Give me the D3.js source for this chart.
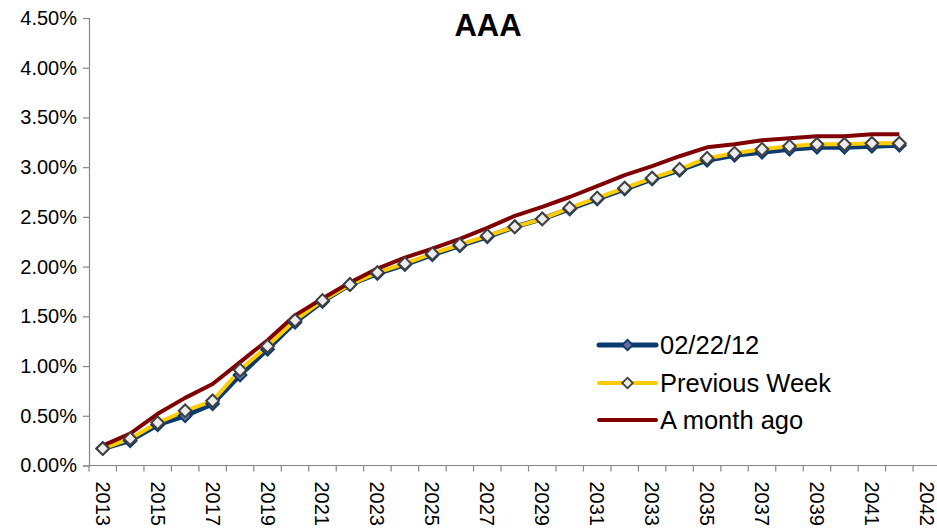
<!DOCTYPE html>
<html><head><meta charset="utf-8">
<script src="https://cdn.jsdelivr.net/npm/d3@7"></script>
<style>
html,body{margin:0;padding:0;background:#fff;}
svg{display:block;font-family:"Liberation Sans",Arial,sans-serif;}
</style></head>
<body><svg id="chart" width="937" height="531"></svg>
<script>
// ---- data ----
const categories = ["2013","2014","2015","2016","2017","2018","2019","2020","2021","2022",
  "2023","2024","2025","2026","2027","2028","2029","2030","2031","2032","2033","2034",
  "2035","2036","2037","2038","2039","2040","2041","2042","2042"];
const current = [0.17,0.25,0.41,0.50,0.62,0.91,1.17,1.44,1.65,1.82,1.93,2.02,2.12,2.21,2.30,
  2.40,2.48,2.58,2.68,2.78,2.88,2.97,3.07,3.12,3.15,3.18,3.20,3.20,3.21,3.22];
const previousWeek = [0.17,0.27,0.43,0.55,0.65,0.96,1.20,1.46,1.66,1.82,1.94,2.03,2.13,2.22,2.31,
  2.40,2.48,2.59,2.69,2.79,2.89,2.98,3.09,3.14,3.18,3.21,3.23,3.23,3.24,3.24];
const monthAgo = [0.20,0.32,0.52,0.68,0.82,1.04,1.26,1.51,1.68,1.84,1.98,2.09,2.18,2.28,2.39,
  2.51,2.60,2.70,2.81,2.92,3.01,3.11,3.20,3.23,3.27,3.29,3.31,3.31,3.33,3.33];
const yTicks = [0,0.5,1,1.5,2,2.5,3,3.5,4,4.5];
const seriesNames = ["02/22/12","Previous Week","A month ago"];
const title = "AAA";

(function(){
// ---- layout ----
const svg = d3.select("#chart");
const mLeft = 89, mTop = 18, mBottom = 465.5, catW = 27.47;
const idx = d3.range(categories.length);
const x = d3.scaleBand().domain(idx).range([mLeft, mLeft + catW*categories.length]).paddingInner(0).paddingOuter(0);
const y = d3.scaleLinear().domain([0,4.5]).range([mBottom, mTop]);
const cx = i => x(i) + x.bandwidth()/2;
const axisColor = "#868686";

svg.append("rect").attr("width",937).attr("height",531).attr("fill","#fff");

// y axis
const yAxis = svg.append("g").attr("transform",`translate(${mLeft},0)`)
  .call(d3.axisLeft(y).tickValues(yTicks).tickSize(6).tickPadding(6).tickFormat(d => d.toFixed(2)+"%"));
yAxis.select(".domain").attr("stroke",axisColor).attr("stroke-width",1.2);
yAxis.selectAll(".tick line").attr("stroke",axisColor).attr("stroke-width",1.2);
yAxis.selectAll(".tick text").attr("font-size","20px").attr("fill","#000")
  .attr("font-family","'Liberation Sans',Arial,sans-serif");

// x axis (ticks at category boundaries)
const xg = svg.append("g").attr("transform",`translate(0,${mBottom})`);
xg.append("line").attr("x1",mLeft).attr("x2",mLeft + catW*categories.length)
  .attr("stroke",axisColor).attr("stroke-width",1.2);
xg.selectAll("line.tk").data(d3.range(categories.length+1)).join("line").attr("class","tk")
  .attr("x1",k => mLeft + k*x.bandwidth()).attr("x2",k => mLeft + k*x.bandwidth())
  .attr("y1",0).attr("y2",6).attr("stroke",axisColor).attr("stroke-width",1.2);
xg.selectAll("text").data(idx.filter(i => i % 2 === 0)).join("text")
  .attr("transform",i => `translate(${cx(i)},16) rotate(90)`)
  .attr("dy","0.35em").attr("text-anchor","start")
  .attr("font-size","20px").attr("fill","#000")
  .text(i => categories[i]);

// lines
const line = d3.line().x((d,i) => cx(i)).y(d => y(d));
svg.append("path").datum(current).attr("d",line).attr("fill","none")
  .attr("stroke","#0b3a6f").attr("stroke-width",5).attr("stroke-linejoin","round");
svg.append("path").datum(previousWeek).attr("d",line).attr("fill","none")
  .attr("stroke","#ffcc00").attr("stroke-width",4).attr("stroke-linejoin","round");
svg.append("path").datum(monthAgo).attr("d",line).attr("fill","none")
  .attr("stroke","#800000").attr("stroke-width",4).attr("stroke-linejoin","round");

const diamond = d3.symbol().type(d3.symbolSquare).size(80);
svg.append("g").selectAll("path").data(current).join("path")
  .attr("d",diamond()).attr("transform",(d,i) => `translate(${cx(i)},${y(d)}) rotate(45)`)
  .attr("fill","#6a6a9a").attr("stroke","#0b3a6f").attr("stroke-width",2);
svg.append("g").selectAll("path").data(previousWeek).join("path")
  .attr("d",diamond()).attr("transform",(d,i) => `translate(${cx(i)},${y(d)}) rotate(45)`)
  .attr("fill","#ececec").attr("stroke","#404040").attr("stroke-width",2);

// title
svg.append("text").attr("x",488).attr("y",36).attr("text-anchor","middle")
  .attr("font-size","31px").attr("font-weight","bold").text(title);

// legend
const legY = [345,383,420];
const legStyles = [
  {stroke:"#0b3a6f", w:5, mFill:"#6a6a9a", mStroke:"#0b3a6f"},
  {stroke:"#ffcc00", w:4, mFill:"#ececec", mStroke:"#404040"},
  {stroke:"#800000", w:4, mFill:null}
];
const leg = svg.append("g");
seriesNames.forEach((name,k) => {
  const s = legStyles[k];
  leg.append("line").attr("x1",599).attr("x2",656).attr("y1",legY[k]).attr("y2",legY[k])
    .attr("stroke",s.stroke).attr("stroke-width",s.w).attr("stroke-linecap","round");
  if (s.mFill) leg.append("path").attr("d",d3.symbol().type(d3.symbolSquare).size(56)())
    .attr("transform",`translate(627.5,${legY[k]}) rotate(45)`)
    .attr("fill",s.mFill).attr("stroke",s.mStroke).attr("stroke-width",1.8);
  leg.append("text").attr("x",660).attr("y",legY[k]).attr("dy","0.35em")
    .attr("font-size","25.5px").attr("fill","#000").text(name);
});
})();
</script></body></html>
